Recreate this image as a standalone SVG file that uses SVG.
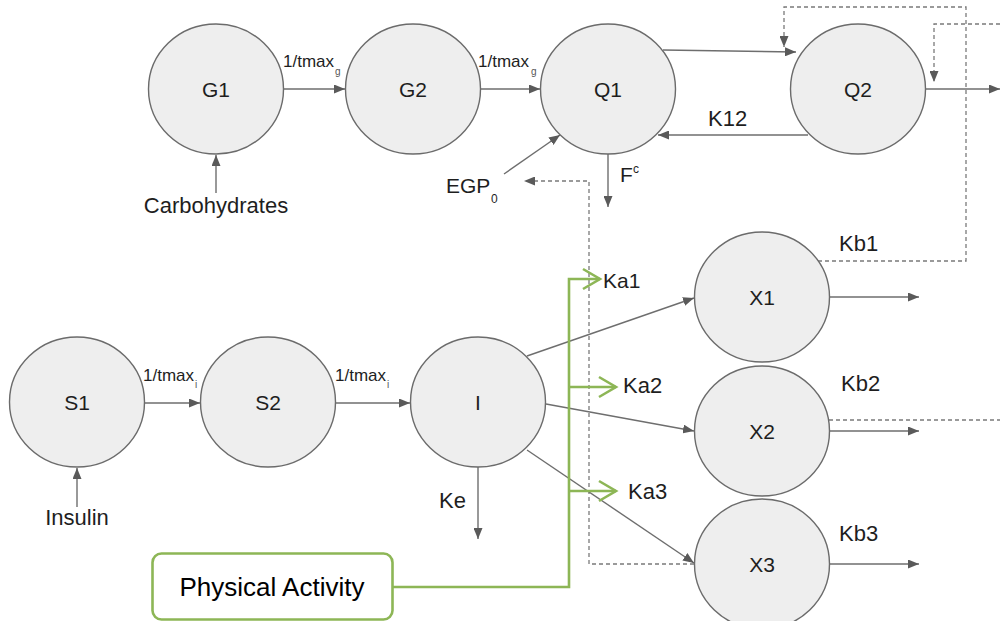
<svg xmlns="http://www.w3.org/2000/svg" width="1000" height="621" viewBox="0 0 1000 621">
<style>
.node ellipse{fill:#eeeeee;stroke:#6b6b6b;stroke-width:1.4}
text{font-family:"Liberation Sans",Arial,sans-serif;fill:#1e1e1e}
.nl{font-size:21px;text-anchor:middle}
.lb{font-size:22px}
.sm{font-size:17px}
.sub{font-size:10px;fill:#555}
.ln{fill:none;stroke:#6e6e6e;stroke-width:1.4}
.ar{marker-end:url(#ah)}
.ds{fill:none;stroke:#7a7a7a;stroke-width:1.3;stroke-dasharray:4 3}
.gr{fill:none;stroke:#8db656;stroke-width:2.6}
</style>
<defs>
<marker id="ah" viewBox="0 0 11 9" refX="11" refY="4.5" markerWidth="11" markerHeight="9" markerUnits="userSpaceOnUse" orient="auto">
<path d="M0,0 L11,4.5 L0,9 z" fill="#5a5a5a"/>
</marker>
</defs>

<g id="connectors">
<line class="ln ar" x1="216" y1="193" x2="216" y2="155"/>
<line class="ln ar" x1="284" y1="89" x2="345" y2="89"/>
<line class="ln ar" x1="481" y1="89" x2="540" y2="89"/>
<line class="ln ar" x1="663" y1="50" x2="796" y2="52"/>
<line class="ln ar" x1="808" y1="135" x2="658" y2="135"/>
<line class="ln ar" x1="926" y1="89" x2="1000" y2="89"/>
<line class="ln ar" x1="504" y1="174" x2="560" y2="135"/>
<line class="ln ar" x1="608" y1="154" x2="608" y2="207"/>
<polyline class="ds ar" points="694,564 589,564 589,181 524,181"/>
<polyline class="ds ar" points="818,261 966,261 966,7 784,7 784,47"/>
<polyline class="ds" points="829,420 1000,420"/>
<polyline class="ds ar" points="1000,24 934,24 934,82"/>
<line class="ln ar" x1="77" y1="507" x2="77" y2="468"/>
<line class="ln ar" x1="145" y1="403" x2="200" y2="403"/>
<line class="ln ar" x1="336" y1="403" x2="410" y2="403"/>
<line class="ln ar" x1="478" y1="467" x2="478" y2="539"/>
<line class="ln ar" x1="527" y1="356" x2="694" y2="298"/>
<line class="ln ar" x1="546" y1="404" x2="694" y2="431"/>
<line class="ln ar" x1="527" y1="450" x2="694" y2="563"/>
<line class="ln ar" x1="829" y1="297" x2="919" y2="297"/>
<line class="ln ar" x1="829" y1="431" x2="919" y2="431"/>
<line class="ln ar" x1="829" y1="564" x2="919" y2="564"/>
<polyline class="gr" points="392,587 569,587 569,279 600,279"/>
<line class="gr" x1="569" y1="387" x2="616" y2="387"/>
<line class="gr" x1="569" y1="491" x2="616" y2="491"/>
<polyline class="gr" points="583,269 600,279 583,289"/>
<polyline class="gr" points="599,377 616,387 599,397"/>
<polyline class="gr" points="599,481 616,491 599,501"/>
</g>

<g id="labels">
<text class="lb" x="216" y="213" text-anchor="middle">Carbohydrates</text>
<text class="sm" x="283" y="67">1/tmax</text><text class="sub" x="335" y="75">g</text>
<text class="sm" x="478" y="67">1/tmax</text><text class="sub" x="531" y="75">g</text>
<text class="lb" x="708" y="126">K12</text>
<text style="font-size:21px" x="446" y="193">EGP</text><text style="font-size:12px" x="491" y="203">0</text>
<text style="font-size:21px" x="620" y="182">F</text><text style="font-size:12px" x="633" y="173">c</text>
<text class="lb" x="77" y="525" text-anchor="middle">Insulin</text>
<text class="sm" x="143" y="381">1/tmax</text><text class="sub" x="195" y="388">i</text>
<text class="sm" x="335" y="381">1/tmax</text><text class="sub" x="387" y="388">i</text>
<text class="lb" x="439" y="508">Ke</text>
<text class="lb" x="839" y="251">Kb1</text>
<text class="lb" x="841" y="391">Kb2</text>
<text class="lb" x="839" y="541">Kb3</text>
<text style="font-size:21px" x="603" y="288">Ka1</text>
<text class="lb" x="623" y="393">Ka2</text>
<text class="lb" x="628" y="499">Ka3</text>
</g>

<g id="G1" class="node"><ellipse cx="216" cy="89" rx="67.5" ry="65"/><text class="nl" x="216" y="97">G1</text></g>
<g id="G2" class="node"><ellipse cx="413" cy="89" rx="67.5" ry="65"/><text class="nl" x="413" y="97">G2</text></g>
<g id="Q1" class="node"><ellipse cx="608" cy="89" rx="67.5" ry="65"/><text class="nl" x="608" y="97">Q1</text></g>
<g id="Q2" class="node"><ellipse cx="858" cy="89" rx="67.5" ry="65"/><text class="nl" x="858" y="97">Q2</text></g>
<g id="S1" class="node"><ellipse cx="77" cy="402" rx="67.5" ry="65"/><text class="nl" x="77" y="410">S1</text></g>
<g id="S2" class="node"><ellipse cx="268" cy="402" rx="67.5" ry="65"/><text class="nl" x="268" y="410">S2</text></g>
<g id="I" class="node"><ellipse cx="478" cy="402" rx="67.5" ry="65"/><text class="nl" x="478" y="410">I</text></g>
<g id="X1" class="node"><ellipse cx="762" cy="297" rx="67.5" ry="65"/><text class="nl" x="762" y="305">X1</text></g>
<g id="X2" class="node"><ellipse cx="762" cy="431" rx="67.5" ry="65"/><text class="nl" x="762" y="439">X2</text></g>
<g id="X3" class="node"><ellipse cx="762" cy="564" rx="67.5" ry="65"/><text class="nl" x="762" y="572">X3</text></g>
<g id="PhysicalActivity"><rect x="152.5" y="553.5" width="240" height="66" rx="9" fill="#ffffff" stroke="#8db656" stroke-width="2.6"/><text x="272" y="596" text-anchor="middle" style="font-size:26px;fill:#000">Physical Activity</text></g>
</svg>
